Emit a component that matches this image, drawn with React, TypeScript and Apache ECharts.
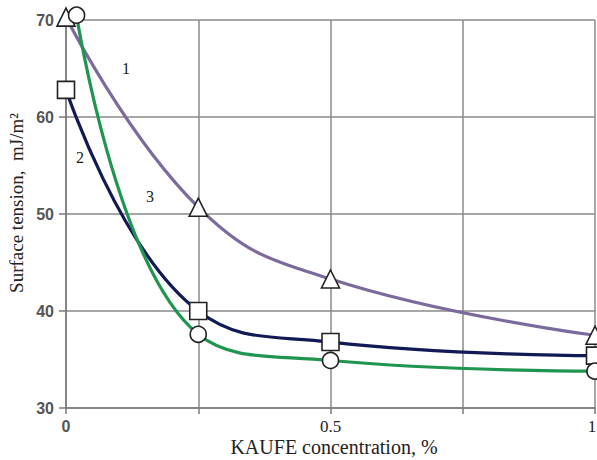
import React, { useEffect, useRef } from "react";
import * as echarts from "echarts";

const xTicks = [0, 0.25, 0.5, 0.75, 1];
const xTickLabels = ["0", "", "0.5", "", "1"];
const series1X = [0, 0.25, 0.5, 1];
const series1Y = [70.3, 50.7, 43.3, 37.5];
const series2X = [0, 0.25, 0.5, 1];
const series2Y = [62.8, 40.0, 36.8, 35.4];
const series3X = [0.02, 0.25, 0.5, 1];
const series3Y = [70.5, 37.6, 34.9, 33.8];
const curveLabels = ["1", "2", "3"];

const SERIF = "'Liberation Serif', 'Times New Roman', serif";
const SANS = "'Liberation Sans', Arial, sans-serif";

function pts(xs: number[], ys: number[]) {
  return xs.map((x, i) => [x, ys[i]]);
}

export default function App() {
  const ref = useRef<HTMLDivElement>(null);
  useEffect(() => {
    if (!ref.current) return;
    const chart = echarts.init(ref.current, undefined, { renderer: "svg" });
    const markerStyle = { color: "#ffffff", borderColor: "#222222", borderWidth: 1.6 };
    const mk = (name: string, data: number[][], color: string, symbol: string, size: number, z: number) => ({
      name,
      type: "line",
      data,
      smooth: 0.45,
      symbol,
      symbolSize: size,
      showAllSymbol: true,
      clip: false,
      z,
      lineStyle: { color, width: 3.2 },
      itemStyle: markerStyle,
    });
    const curveText = (t: string, x: number, y: number) => ({
      type: "text",
      x,
      y,
      style: { text: t, fontFamily: SERIF, fontSize: 16, fill: "#1a1a1a", align: "center", verticalAlign: "middle" },
    });
    chart.setOption({
      animation: false,
      backgroundColor: "#ffffff",
      grid: { left: 66, right: 2, top: 20, bottom: 52, outerBoundsMode: "none", containLabel: false },
      xAxis: {
        type: "value",
        min: 0,
        max: 1,
        interval: 0.25,
        axisLine: { show: true, lineStyle: { color: "#7a7a7a", width: 1.5 } },
        axisTick: { show: true, length: 6, lineStyle: { color: "#7a7a7a", width: 1.5 } },
        splitLine: { show: true, lineStyle: { color: "#8a8a8a", width: 1.5 } },
        axisLabel: {
          margin: 10,
          showMaxLabel: true,
          showMinLabel: true,
          formatter: (v: number) => {
            const i = xTicks.findIndex((t) => Math.abs(t - v) < 1e-6);
            const s = i >= 0 ? xTickLabels[i] : "";
            if (!s) return "";
            if (i === 0) return `{a|${s}}`;
            if (i === xTicks.length - 1) return `{c|${s}}`;
            return `{b|${s}}`;
          },
          rich: {
            a: { fontFamily: SANS, fontWeight: "bold", fontSize: 16, color: "#555555" },
            b: { fontFamily: SERIF, fontSize: 17, color: "#222222" },
            c: { fontFamily: SERIF, fontSize: 17, color: "#222222", padding: [0, 6, 0, 0] },
          },
        },
      },
      yAxis: {
        type: "value",
        min: 30,
        max: 70,
        interval: 10,
        axisLine: { show: true, lineStyle: { color: "#7a7a7a", width: 1.5 } },
        axisTick: { show: true, length: 7, lineStyle: { color: "#7a7a7a", width: 1.5 } },
        splitLine: { show: true, lineStyle: { color: "#8a8a8a", width: 1.5 } },
        axisLabel: {
          margin: 12,
          fontFamily: SANS,
          fontWeight: "bold",
          fontSize: 16,
          color: "#555555",
        },
      },
      graphic: [
        {
          type: "text",
          x: 16,
          y: 203,
          rotation: Math.PI / 2,
          style: {
            text: "Surface tension,  mJ/m²",
            fontFamily: SERIF,
            fontSize: 19,
            fill: "#222222",
            align: "center",
            verticalAlign: "middle",
          },
        },
        {
          type: "text",
          x: 334,
          y: 447,
          style: {
            text: "KAUFE concentration, %",
            fontFamily: SERIF,
            fontSize: 20,
            fill: "#222222",
            align: "center",
            verticalAlign: "middle",
          },
        },
        curveText(curveLabels[0], 126, 68),
        curveText(curveLabels[1], 80, 157),
        curveText(curveLabels[2], 150, 196),
      ],
      series: [
        mk("1", pts(series1X, series1Y), "#7b6a9b", "triangle", 18, 3),
        mk("2", pts(series2X, series2Y), "#111a55", "rect", 17, 4),
        mk("3", pts(series3X, series3Y), "#1f9550", "circle", 16, 5),
      ],
    });
    return () => chart.dispose();
  }, []);
  return (
    <div
      ref={ref}
      style={{ position: "fixed", left: 0, top: 0, width: 597, height: 460, background: "#fff" }}
    />
  );
}
